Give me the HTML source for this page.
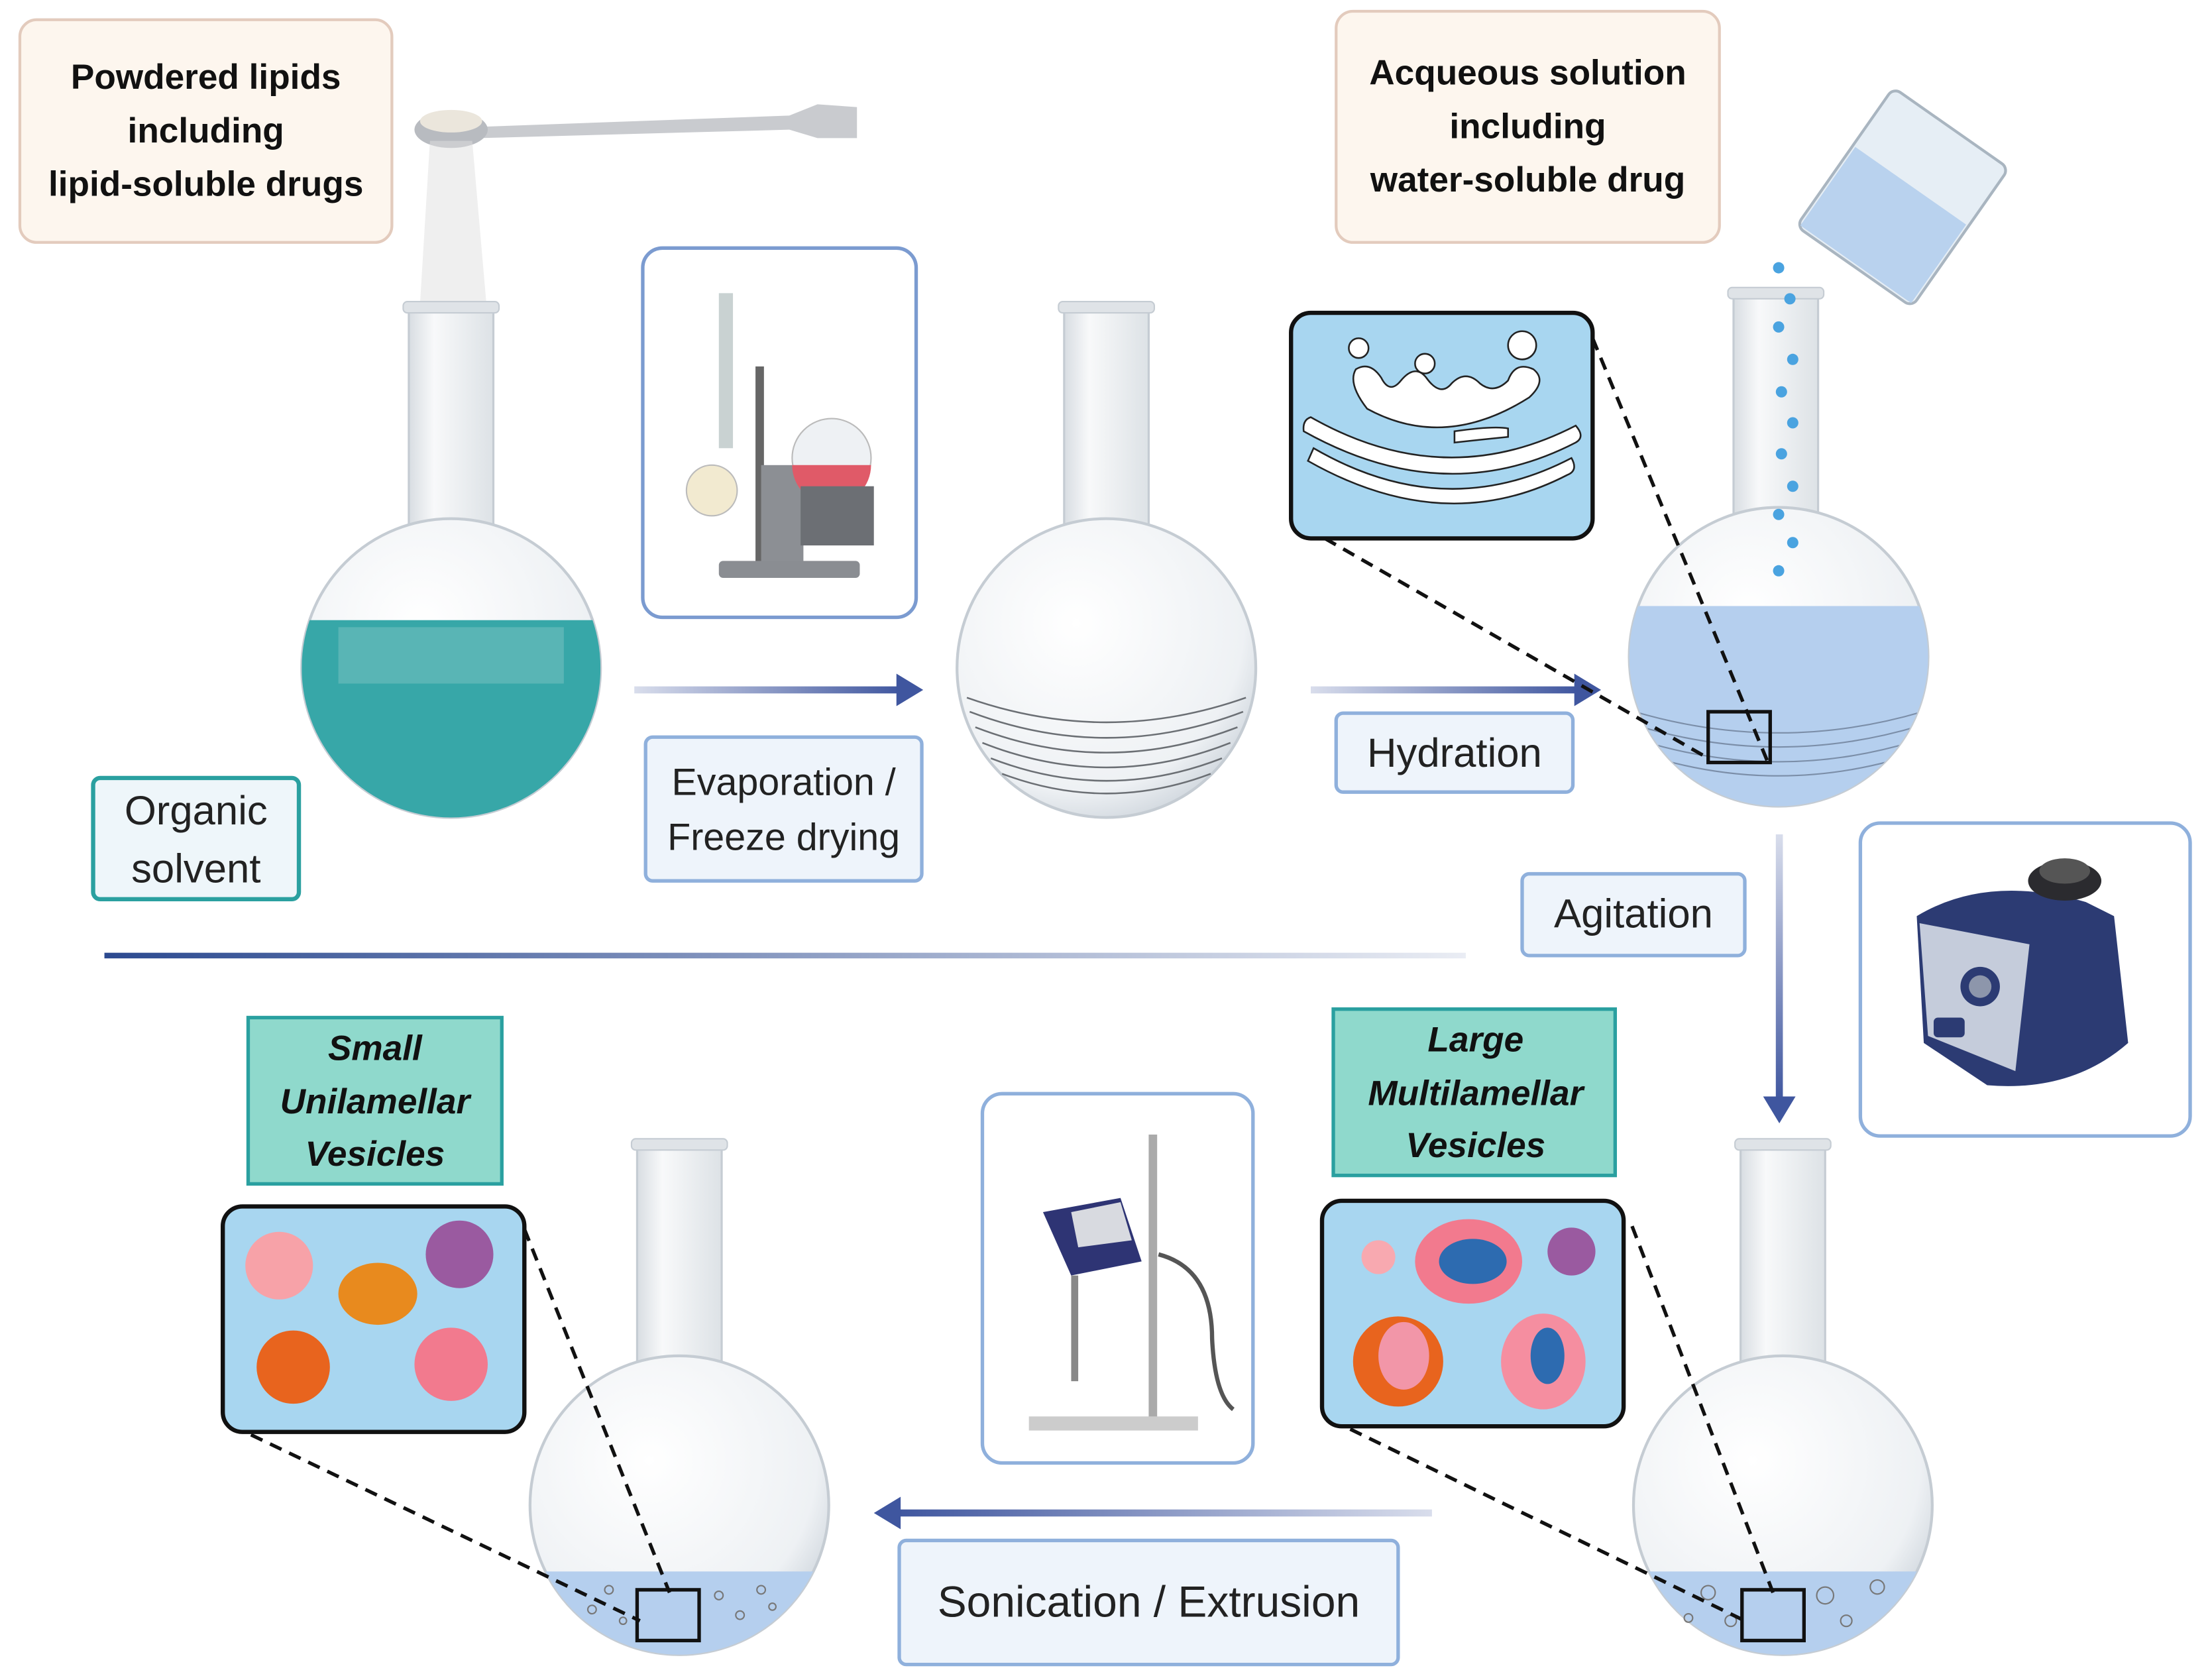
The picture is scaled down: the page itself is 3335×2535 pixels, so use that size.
<!DOCTYPE html>
<html><head><meta charset="utf-8"><style>
html,body{margin:0;padding:0;background:#fff;}
svg{display:block;}
text{font-family:"Liberation Sans",sans-serif;}
</style></head><body>
<svg width="3335" height="2535" viewBox="0 0 1568 1192" xmlns="http://www.w3.org/2000/svg">
<defs>
<radialGradient id="glass" cx="0.4" cy="0.35" r="0.7"><stop offset="0" stop-color="#ffffff"/><stop offset="0.8" stop-color="#eef1f4"/><stop offset="1" stop-color="#cfd6dd"/></radialGradient>
<linearGradient id="neck" x1="0" x2="1"><stop offset="0" stop-color="#d8dde2"/><stop offset="0.3" stop-color="#f8f9fa"/><stop offset="1" stop-color="#dde2e6"/></linearGradient>
<linearGradient id="fadeR" x1="0" x2="1"><stop offset="0" stop-color="#3f569f" stop-opacity="0.2"/><stop offset="1" stop-color="#3f569f"/></linearGradient>
<linearGradient id="fadeL" x1="0" x2="1"><stop offset="0" stop-color="#3f569f"/><stop offset="1" stop-color="#3f569f" stop-opacity="0.2"/></linearGradient>
<linearGradient id="fadeD" x1="0" x2="0" y1="0" y2="1"><stop offset="0" stop-color="#3f569f" stop-opacity="0.2"/><stop offset="1" stop-color="#3f569f"/></linearGradient>
<linearGradient id="hline" x1="0" x2="1"><stop offset="0" stop-color="#2c4a90"/><stop offset="1" stop-color="#2c4a90" stop-opacity="0.1"/></linearGradient>
<clipPath id="b1"><circle cx="320" cy="474" r="106"/></clipPath>
<clipPath id="b3"><circle cx="1262" cy="466" r="106"/></clipPath>
<clipPath id="b4"><circle cx="1265" cy="1068" r="106"/></clipPath>
<clipPath id="b5"><circle cx="482" cy="1068" r="106"/></clipPath>
</defs>

<rect x="14" y="14" width="264" height="158" rx="12" fill="#fdf6ee" stroke="#e3cbbd" stroke-width="2"/>
<text x="146" y="63" font-size="25" font-weight="bold" text-anchor="middle" fill="#111">Powdered lipids</text>
<text x="146" y="101" font-size="25" font-weight="bold" text-anchor="middle" fill="#111">including</text>
<text x="146" y="139" font-size="25" font-weight="bold" text-anchor="middle" fill="#111">lipid-soluble drugs</text>

<rect x="948" y="8" width="272" height="164" rx="12" fill="#fdf6ee" stroke="#e3cbbd" stroke-width="2"/>
<text x="1084" y="60" font-size="25" font-weight="bold" text-anchor="middle" fill="#111">Acqueous solution</text>
<text x="1084" y="98" font-size="25" font-weight="bold" text-anchor="middle" fill="#111">including</text>
<text x="1084" y="136" font-size="25" font-weight="bold" text-anchor="middle" fill="#111">water-soluble drug</text>

<path d="M340 90 L560 82 L580 74 L608 76 L608 98 L580 98 L560 92 L340 98 Z" fill="#c9cbcf"/>
<ellipse cx="320" cy="92" rx="26" ry="13" fill="#b8bbc0"/>
<ellipse cx="320" cy="86" rx="22" ry="8" fill="#ebe6dc"/>
<path d="M305 100 L335 100 L345 215 L298 215 Z" fill="#e0e0e0" opacity="0.5"/>

<rect x="290" y="218" width="60" height="160" fill="url(#neck)" stroke="#c5ccd3" stroke-width="1.5"/>
<circle cx="320" cy="474" r="106" fill="url(#glass)" stroke="#c5ccd3" stroke-width="2"/>
<rect x="214" y="440" width="212" height="150" fill="#37a7a8" clip-path="url(#b1)"/>
<rect x="240" y="445" width="160" height="40" fill="#7cc3c2" opacity="0.5" clip-path="url(#b1)"/>
<rect x="286" y="214" width="68" height="8" rx="3" fill="#dfe3e7" stroke="#c5ccd3"/>

<rect x="66" y="552" width="146" height="86" rx="5" fill="#eef6fa" stroke="#2aa0a0" stroke-width="3"/>
<text x="139" y="585" font-size="29" text-anchor="middle" fill="#222">Organic</text>
<text x="139" y="626" font-size="29" text-anchor="middle" fill="#222">solvent</text>

<rect x="450" y="487" width="190" height="5" fill="url(#fadeR)"/>
<polygon points="636,478 655,489.5 636,501" fill="#3f569f"/>

<rect x="456" y="176" width="194" height="262" rx="14" fill="#fff" stroke="#7b9bd0" stroke-width="2.5"/>
<rect x="510" y="208" width="10" height="110" fill="#c9d2d2"/>
<rect x="536" y="260" width="6" height="150" fill="#666"/>
<rect x="540" y="330" width="30" height="70" fill="#8c8f94"/>
<circle cx="590" cy="325" r="28" fill="#eef1f4" stroke="#bbb"/>
<path d="M562 330 A28 28 0 0 0 618 330 Z" fill="#e05a68"/>
<rect x="568" y="345" width="52" height="42" fill="#6c6f74"/>
<circle cx="505" cy="348" r="18" fill="#f2ead0" stroke="#bbb"/>
<rect x="510" y="398" width="100" height="12" rx="3" fill="#8a8d92"/>

<rect x="458" y="523" width="196" height="102" rx="5" fill="#eef4fb" stroke="#8fb0dc" stroke-width="2.5"/>
<text x="556" y="564" font-size="27" text-anchor="middle" fill="#222">Evaporation /</text>
<text x="556" y="603" font-size="27" text-anchor="middle" fill="#222">Freeze drying</text>

<rect x="755" y="218" width="60" height="160" fill="url(#neck)" stroke="#c5ccd3" stroke-width="1.5"/>
<circle cx="785" cy="474" r="106" fill="url(#glass)" stroke="#c5ccd3" stroke-width="2"/>
<g fill="none" stroke="#6b6f74" stroke-width="1.2">
<path d="M686 495 Q785 530 884 495"/><path d="M688 505 Q785 542 882 505"/><path d="M692 516 Q785 552 878 516"/><path d="M697 527 Q785 562 873 527"/><path d="M703 538 Q785 570 867 538"/><path d="M711 549 Q785 577 859 549"/>
</g>
<rect x="751" y="214" width="68" height="8" rx="3" fill="#dfe3e7" stroke="#c5ccd3"/>

<rect x="930" y="487" width="190" height="5" fill="url(#fadeR)"/>
<polygon points="1117,478 1136,489.5 1117,501" fill="#3f569f"/>
<rect x="948" y="506" width="168" height="56" rx="5" fill="#eef4fb" stroke="#8fb0dc" stroke-width="2.5"/>
<text x="1032" y="544" font-size="29" text-anchor="middle" fill="#222">Hydration</text>

<rect x="1230" y="208" width="60" height="165" fill="url(#neck)" stroke="#c5ccd3" stroke-width="1.5"/>
<circle cx="1262" cy="466" r="106" fill="url(#glass)" stroke="#c5ccd3" stroke-width="2"/>
<rect x="1150" y="430" width="225" height="150" fill="#b5cfee" clip-path="url(#b3)"/>
<g fill="none" stroke="#7b8ea8" stroke-width="1" clip-path="url(#b3)">
<path d="M1160 505 Q1262 535 1364 505"/><path d="M1162 515 Q1262 545 1362 515"/><path d="M1166 526 Q1262 555 1358 526"/><path d="M1172 537 Q1262 564 1352 537"/>
</g>
<rect x="1226" y="204" width="68" height="8" rx="3" fill="#dfe3e7" stroke="#c5ccd3"/>
<g fill="#4aa3e0">
<circle cx="1262" cy="190" r="4"/><circle cx="1270" cy="212" r="4"/><circle cx="1262" cy="232" r="4"/><circle cx="1272" cy="255" r="4"/><circle cx="1264" cy="278" r="4"/><circle cx="1272" cy="300" r="4"/><circle cx="1264" cy="322" r="4"/><circle cx="1272" cy="345" r="4"/><circle cx="1262" cy="365" r="4"/><circle cx="1272" cy="385" r="4"/><circle cx="1262" cy="405" r="4"/>
</g>
<g transform="rotate(35 1350 140)">
<rect x="1300" y="80" width="100" height="120" rx="6" fill="#e6eef5" stroke="#a9b5c0" stroke-width="2"/>
<rect x="1302" y="130" width="96" height="68" fill="#b9d2ee"/>
</g>

<line x1="1130" y1="240" x2="1254" y2="540" stroke="#111" stroke-width="2.5" stroke-dasharray="9,6"/>
<line x1="940" y1="382" x2="1212" y2="538" stroke="#111" stroke-width="2.5" stroke-dasharray="9,6"/>
<rect x="1212" y="505" width="44" height="36" fill="none" stroke="#111" stroke-width="2.5"/>
<rect x="916" y="222" width="214" height="160" rx="14" fill="#a8d6f0" stroke="#111" stroke-width="3"/>
<g fill="#fff" stroke="#222" stroke-width="1.2">
<circle cx="964" cy="247" r="7"/><circle cx="1080" cy="245" r="10"/><circle cx="1011" cy="258" r="7"/>
<path d="M970 290 Q1025 320 1085 282 Q1098 270 1088 262 Q1075 256 1070 270 Q1060 280 1050 272 Q1040 262 1030 272 Q1022 282 1012 268 Q1004 258 994 270 Q986 280 980 268 Q972 256 962 262 Q956 272 970 290 Z"/>
<path d="M930 296 Q1025 350 1118 302 Q1125 310 1118 314 Q1025 362 925 306 Q924 298 930 296 Z"/>
<path d="M932 318 Q1025 372 1115 325 Q1120 334 1112 337 Q1025 382 928 327 Z"/>
<path d="M1032 306 Q1060 302 1070 304 L1070 310 Q1050 312 1032 314 Z"/>
</g>

<rect x="1260" y="592" width="5" height="190" fill="url(#fadeD)"/>
<polygon points="1251,778 1262.5,797 1274,778" fill="#3f569f"/>
<rect x="1080" y="620" width="158" height="58" rx="5" fill="#eef4fb" stroke="#8fb0dc" stroke-width="2.5"/>
<text x="1159" y="658" font-size="29" text-anchor="middle" fill="#222">Agitation</text>

<rect x="1320" y="584" width="234" height="222" rx="14" fill="#fff" stroke="#8fb0dc" stroke-width="2.5"/>
<path d="M1360 650 Q1410 620 1480 640 L1500 650 L1510 740 Q1470 775 1410 770 L1365 740 Z" fill="#2c3b73"/>
<path d="M1362 655 L1440 670 L1430 760 L1368 735 Z" fill="#c5ccdb"/>
<circle cx="1405" cy="700" r="14" fill="#2c3b73"/><circle cx="1405" cy="700" r="8" fill="#8d96ab"/>
<rect x="1372" y="722" width="22" height="14" rx="3" fill="#2c3b73"/>
<ellipse cx="1465" cy="625" rx="26" ry="14" fill="#2b2b2f"/>
<ellipse cx="1465" cy="618" rx="18" ry="9" fill="#555"/>

<rect x="74" y="676" width="966" height="4" fill="url(#hline)"/>

<rect x="946" y="716" width="200" height="118" fill="#8fd9cc" stroke="#2aa0a0" stroke-width="2.5"/>
<text x="1047" y="746" font-size="25" font-weight="bold" font-style="italic" text-anchor="middle" fill="#111">Large</text>
<text x="1047" y="784" font-size="25" font-weight="bold" font-style="italic" text-anchor="middle" fill="#111">Multilamellar</text>
<text x="1047" y="821" font-size="25" font-weight="bold" font-style="italic" text-anchor="middle" fill="#111">Vesicles</text>

<rect x="1235" y="812" width="60" height="165" fill="url(#neck)" stroke="#c5ccd3" stroke-width="1.5"/>
<circle cx="1265" cy="1068" r="106" fill="url(#glass)" stroke="#c5ccd3" stroke-width="2"/>
<rect x="1150" y="1115" width="230" height="70" fill="#b5cfee" clip-path="url(#b4)"/>
<g fill="none" stroke="#777" stroke-width="1">
<circle cx="1212" cy="1130" r="5"/><circle cx="1228" cy="1150" r="4"/><circle cx="1295" cy="1132" r="6"/><circle cx="1310" cy="1150" r="4"/><circle cx="1332" cy="1126" r="5"/><circle cx="1198" cy="1148" r="3"/>
</g>
<rect x="1231" y="808" width="68" height="8" rx="3" fill="#dfe3e7" stroke="#c5ccd3"/>
<line x1="1158" y1="870" x2="1258" y2="1130" stroke="#111" stroke-width="2.5" stroke-dasharray="9,6"/>
<line x1="958" y1="1014" x2="1238" y2="1150" stroke="#111" stroke-width="2.5" stroke-dasharray="9,6"/>
<rect x="1236" y="1128" width="44" height="36" fill="none" stroke="#111" stroke-width="2.5"/>
<rect x="938" y="852" width="214" height="160" rx="14" fill="#a8d6f0" stroke="#111" stroke-width="3"/>
<circle cx="978" cy="892" r="12" fill="#f8a9b0"/>
<ellipse cx="1042" cy="895" rx="38" ry="30" fill="#f27a8e"/><ellipse cx="1045" cy="895" rx="24" ry="16" fill="#2d6bb0"/>
<circle cx="1115" cy="888" r="17" fill="#9a5aa0"/>
<circle cx="992" cy="966" r="32" fill="#e8641e"/><ellipse cx="996" cy="962" rx="18" ry="24" fill="#f296a8"/>
<ellipse cx="1095" cy="966" rx="30" ry="34" fill="#f58ea0"/><ellipse cx="1098" cy="962" rx="12" ry="20" fill="#2d6bb0"/>

<rect x="697" y="776" width="192" height="262" rx="14" fill="#fff" stroke="#8fb0dc" stroke-width="2.5"/>
<rect x="815" y="805" width="6" height="205" fill="#aaa"/>
<rect x="730" y="1005" width="120" height="10" fill="#ccc"/>
<path d="M740 860 L795 850 L810 895 L760 905 Z" fill="#2e3474"/>
<path d="M760 860 L795 853 L803 880 L765 885 Z" fill="#d8dae0"/>
<rect x="760" y="905" width="5" height="75" fill="#888"/>
<path d="M822 890 Q860 900 860 950 Q862 990 875 1000" fill="none" stroke="#555" stroke-width="3"/>

<rect x="636" y="1071" width="380" height="5" fill="url(#fadeL)"/>
<polygon points="639,1062 620,1073.5 639,1085" fill="#3f569f"/>
<rect x="638" y="1093" width="354" height="88" rx="5" fill="#eef4fb" stroke="#8fb0dc" stroke-width="2.5"/>
<text x="815" y="1147" font-size="31" text-anchor="middle" fill="#222">Sonication / Extrusion</text>

<rect x="452" y="812" width="60" height="165" fill="url(#neck)" stroke="#c5ccd3" stroke-width="1.5"/>
<circle cx="482" cy="1068" r="106" fill="url(#glass)" stroke="#c5ccd3" stroke-width="2"/>
<rect x="370" y="1115" width="230" height="70" fill="#b5cfee" clip-path="url(#b5)"/>
<g fill="none" stroke="#777" stroke-width="1">
<circle cx="432" cy="1128" r="3"/><circle cx="420" cy="1142" r="3"/><circle cx="510" cy="1132" r="3"/><circle cx="525" cy="1146" r="3"/><circle cx="540" cy="1128" r="3"/><circle cx="442" cy="1150" r="2.5"/><circle cx="548" cy="1140" r="2.5"/>
</g>
<rect x="448" y="808" width="68" height="8" rx="3" fill="#dfe3e7" stroke="#c5ccd3"/>
<line x1="372" y1="872" x2="475" y2="1130" stroke="#111" stroke-width="2.5" stroke-dasharray="9,6"/>
<line x1="178" y1="1018" x2="454" y2="1150" stroke="#111" stroke-width="2.5" stroke-dasharray="9,6"/>
<rect x="452" y="1128" width="44" height="36" fill="none" stroke="#111" stroke-width="2.5"/>

<rect x="176" y="722" width="180" height="118" fill="#8fd9cc" stroke="#2aa0a0" stroke-width="2.5"/>
<text x="266" y="752" font-size="25" font-weight="bold" font-style="italic" text-anchor="middle" fill="#111">Small</text>
<text x="266" y="790" font-size="25" font-weight="bold" font-style="italic" text-anchor="middle" fill="#111">Unilamellar</text>
<text x="266" y="827" font-size="25" font-weight="bold" font-style="italic" text-anchor="middle" fill="#111">Vesicles</text>
<rect x="158" y="856" width="214" height="160" rx="14" fill="#a8d6f0" stroke="#111" stroke-width="3"/>
<circle cx="198" cy="898" r="24" fill="#f7a2a8"/>
<circle cx="326" cy="890" r="24" fill="#9a5aa0"/>
<ellipse cx="268" cy="918" rx="28" ry="22" fill="#e88a1e"/>
<circle cx="208" cy="970" r="26" fill="#e8641e"/>
<circle cx="320" cy="968" r="26" fill="#f27a8e"/>
</svg>
</body></html>
